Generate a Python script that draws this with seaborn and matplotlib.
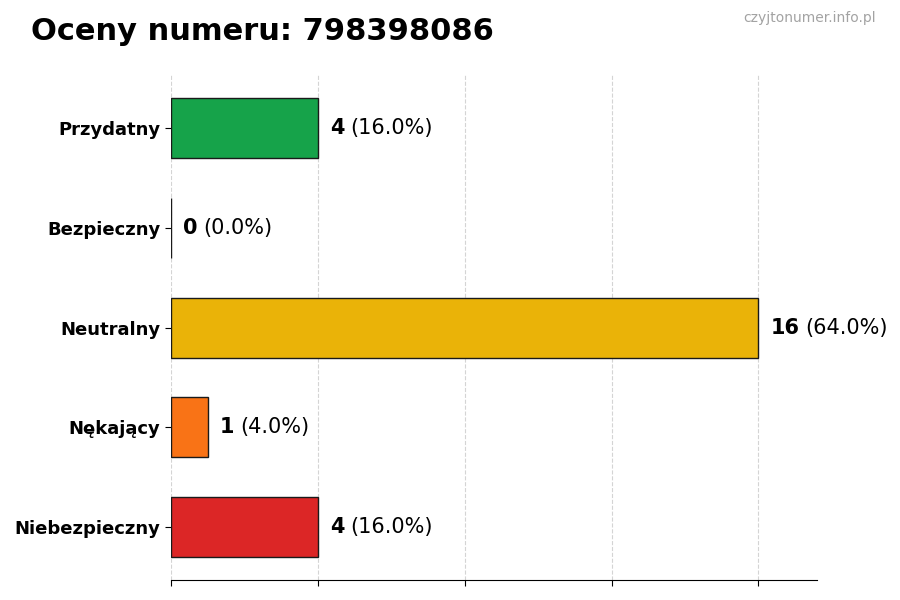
import pandas as pd
import numpy as np
import matplotlib
matplotlib.use("Agg")
import matplotlib.pyplot as plt
import seaborn as sns
from matplotlib.transforms import offset_copy

sns.set_style("white")
plt.rcParams["text.color"] = "black"
plt.rcParams["axes.labelcolor"] = "black"
plt.rcParams["xtick.color"] = "black"
plt.rcParams["ytick.color"] = "black"

# ===========================
# DATA
# ===========================

categories = ["Przydatny", "Bezpieczny", "Neutralny", "Nękający", "Niebezpieczny"]
counts = [4, 0, 16, 1, 4]
colors = ["#16a34a", "#22c55e", "#eab308", "#f97316", "#dc2626"]
number = "798398086"

total = sum(counts)
percents = [c / total * 100 for c in counts]

df = pd.DataFrame({"Kategoria": categories, "Liczba": counts})

# ===========================
# PLOT
# ===========================

fig = plt.figure(figsize=(9, 6), dpi=100)
ax = fig.add_axes([0.19, 0.033, 0.718, 0.842])

sns.barplot(
    data=df,
    x="Liczba",
    y="Kategoria",
    hue="Kategoria",
    palette=colors,
    saturation=1,
    orient="h",
    width=0.6,
    edgecolor="#1a1a1a",
    linewidth=1,
    legend=False,
    ax=ax
)

ax.set_xlim(0, max(counts) * 1.1)
ax.set_ylim(4.53, -0.53)
ax.set_xticks([0, 4, 8, 12, 16])
ax.set_xticklabels([])
ax.set_xlabel("")
ax.set_ylabel("")

ax.xaxis.grid(True, linestyle="--", color="#d4d4d4", linewidth=0.8)
ax.set_axisbelow(True)

for side in ["top", "right", "left"]:
    ax.spines[side].set_visible(False)
ax.spines["bottom"].set_color("black")

ax.tick_params(axis="both", length=4, color="black", left=True, bottom=True)
for lbl in ax.get_yticklabels():
    lbl.set_fontweight("bold")
    lbl.set_fontsize(13)
    lbl.set_color("black")

# ===========================
# VALUE LABELS
# ===========================

fig.canvas.draw()
renderer = fig.canvas.get_renderer()

for i, (c, p) in enumerate(zip(counts, percents)):
    trans = offset_copy(ax.transData, fig=fig, x=12, y=0, units="dots")
    t1 = ax.text(c, i, str(c), transform=trans, fontsize=15,
                 fontweight="bold", va="center", ha="left", color="black")
    w = t1.get_window_extent(renderer).width
    trans2 = offset_copy(ax.transData, fig=fig, x=12 + w + 6, y=0, units="dots")
    ax.text(c, i, f"({p:.1f}%)", transform=trans2, fontsize=15,
            va="center", ha="left", color="black")

# ===========================
# TITLE + WATERMARK
# ===========================

fig.text(0.034, 0.948, f"Oceny numeru: {number}", fontsize=22,
         fontweight="bold", va="center", ha="left", color="black")
fig.text(0.973, 0.97, "czyjtonumer.info.pl", fontsize=10,
         color="#a3a3a3", va="center", ha="right")

plt.savefig("out.png", dpi=100)
